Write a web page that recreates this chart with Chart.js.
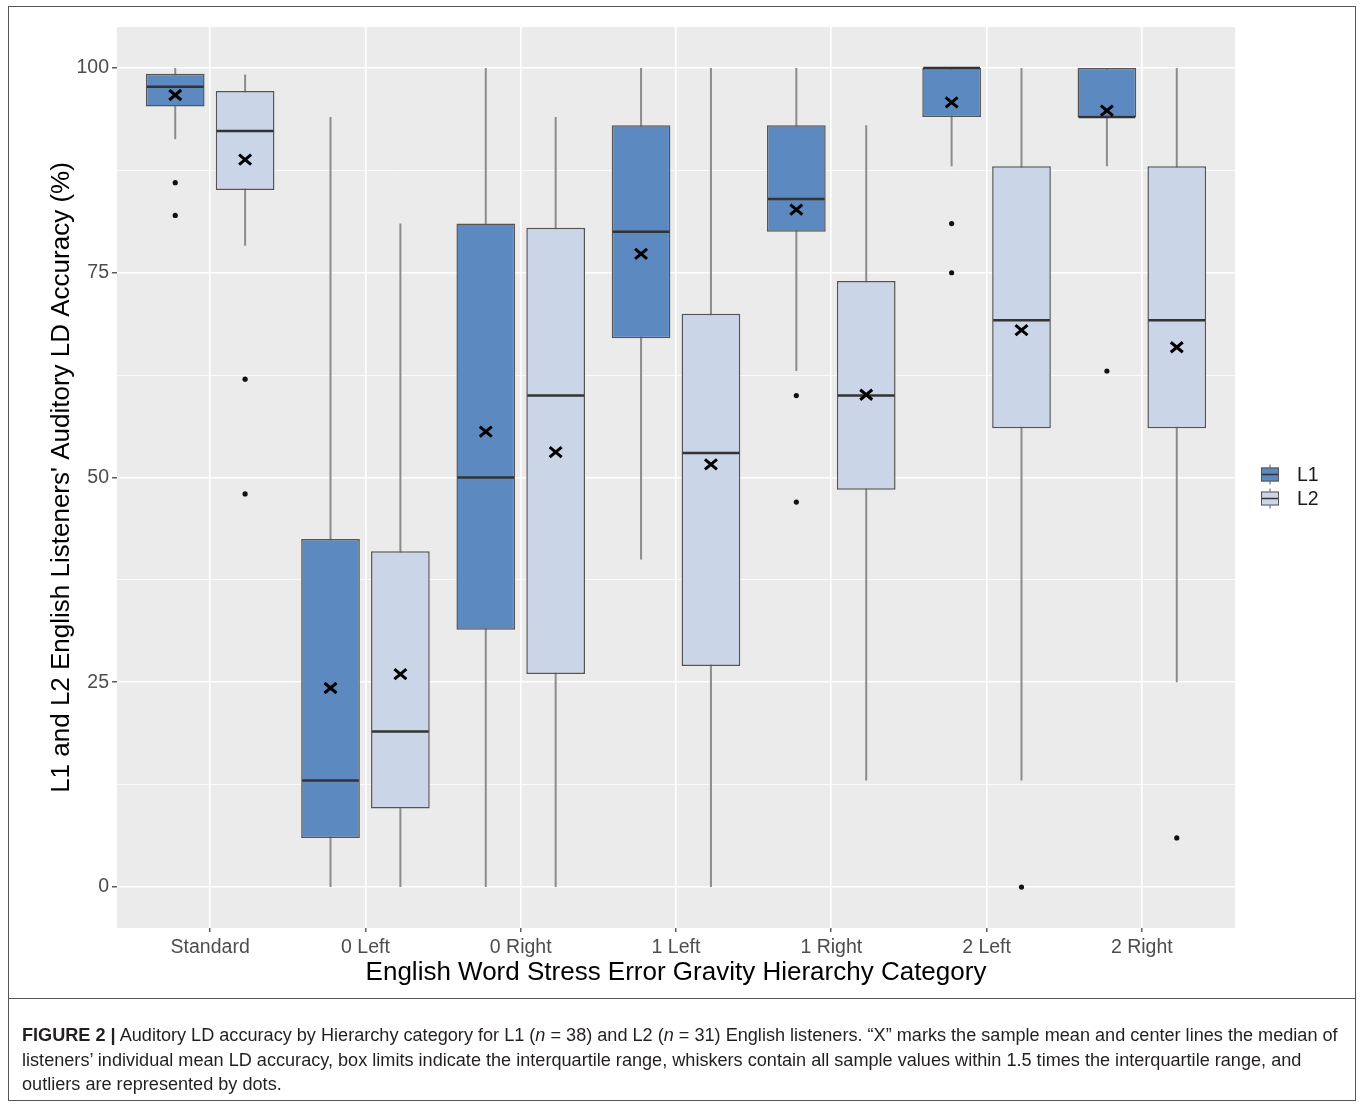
<!DOCTYPE html>
<html>
<head>
<meta charset="utf-8">
<script src="https://cdn.jsdelivr.net/npm/chart.js@4.4.0/dist/chart.umd.min.js"></script>
<style>
  body { margin: 0; background: #fff; width: 1360px; height: 1105px; position: relative; overflow: hidden; }
  #chartBox { position: absolute; left: 0; top: 0; width: 1360px; height: 1000px; }
  #frame { position: absolute; left: 8px; top: 6px; width: 1348px; height: 1095px; border: 1px solid #555; box-sizing: border-box; pointer-events: none; }
  #rule { position: absolute; left: 8px; top: 998px; width: 1348px; border-top: 1px solid #555; }
  #caption { position: absolute; left: 22px; top: 1023px; font-family: "Liberation Sans Narrow", "Liberation Sans", sans-serif; font-size: 17px; line-height: 24.5px; color: #231f20; white-space: nowrap; }
  #caption b { font-weight: bold; }
</style>
</head>
<body>
<div id="chartBox"><canvas id="boxChart" width="1360" height="1000"></canvas></div>
<div id="frame"></div>
<div id="rule"></div>
<div id="caption">
  <div class="line"><b>FIGURE 2 |</b> Auditory LD accuracy by Hierarchy category for L1 (<i>n</i> = 38) and L2 (<i>n</i> = 31) English listeners. “X” marks the sample mean and center lines the median of</div>
  <div class="line">listeners’ individual mean LD accuracy, box limits indicate the interquartile range, whiskers contain all sample values within 1.5 times the interquartile range, and</div>
  <div class="line">outliers are represented by dots.</div>
</div>
<script>
// 카테고리
const categories = ["Standard", "0 Left", "0 Right", "1 Left", "1 Right", "2 Left", "2 Right"];
const yTicks = [0, 12.5, 25, 37.5, 50, 62.5, 75, 87.5, 100];

// L1 값
const l1Min = [91.3, 0, 0, 40, 63, 88, 88];
const l1Q1 = [95.3, 6, 31.4, 67, 80, 94, 94];
const l1Median = [97.7, 13, 50, 80, 84, 100, 94];
const l1Q3 = [99.3, 42.5, 81, 93, 93, 100, 100];
const l1Max = [100, 94, 100, 100, 100, 100, 100];
const l1Mean = [96.7, 24.3, 55.6, 77.3, 82.7, 95.8, 94.8];
const l1Outliers = [[86, 82], [], [], [], [60, 47], [81, 75], [63]];

// L2 값
const l2Min = [78.3, 0, 0, 0, 13, 13, 25];
const l2Q1 = [85.1, 9.6, 26, 27, 48.5, 56, 56];
const l2Median = [92.3, 19, 60, 53, 60, 69.2, 69.2];
const l2Q3 = [97.2, 41, 80.5, 70, 74, 88, 88];
const l2Max = [99.2, 81, 94, 100, 93, 100, 100];
const l2Mean = [88.8, 26, 53.1, 51.6, 60.1, 68, 65.9];
const l2Outliers = [[62, 48], [], [], [], [], [0], [6]];

const series = [
  { label: "L1", fill: "#5b89c0", min: l1Min, q1: l1Q1, median: l1Median, q3: l1Q3, max: l1Max, mean: l1Mean, outliers: l1Outliers },
  { label: "L2", fill: "#cbd5e8", min: l2Min, q1: l2Q1, median: l2Median, q3: l2Q3, max: l2Max, mean: l2Mean, outliers: l2Outliers },
];

const boxBorder = "#555555";
const whiskerColor = "#8c8c8c";
const medianColor = "#333333";

// 박스플롯 나머지 부분 (배경, 수염, 중앙값, 평균, 이상치, 범례)
const boxplotParts = {
  id: "boxplotParts",
  beforeDraw(chart) {
    const { ctx, chartArea: a } = chart;
    ctx.save();
    ctx.fillStyle = "#ebebeb";
    ctx.fillRect(a.left, a.top, a.right - a.left, a.bottom - a.top);
    ctx.restore();
  },
  beforeDatasetsDraw(chart) {
    const ctx = chart.ctx;
    const y = chart.scales.y;
    ctx.save();
    ctx.strokeStyle = whiskerColor;
    ctx.lineWidth = 2;
    series.forEach((s, d) => {
      chart.getDatasetMeta(d).data.forEach((bar, i) => {
        ctx.beginPath();
        ctx.moveTo(bar.x, y.getPixelForValue(s.min[i]));
        ctx.lineTo(bar.x, y.getPixelForValue(s.max[i]));
        ctx.stroke();
      });
    });
    ctx.restore();
  },
  afterDatasetsDraw(chart) {
    const ctx = chart.ctx;
    const y = chart.scales.y;
    ctx.save();
    series.forEach((s, d) => {
      chart.getDatasetMeta(d).data.forEach((bar, i) => {
        const half = bar.width / 2;
        // 중앙값
        const my = y.getPixelForValue(s.median[i]);
        ctx.strokeStyle = medianColor;
        ctx.lineWidth = 2.5;
        ctx.beginPath();
        ctx.moveTo(bar.x - half + 1, my);
        ctx.lineTo(bar.x + half - 1, my);
        ctx.stroke();
        // 평균 (X)
        const ey = y.getPixelForValue(s.mean[i]);
        ctx.strokeStyle = "#000";
        ctx.lineWidth = 3;
        ctx.beginPath();
        ctx.moveTo(bar.x - 6, ey - 5);
        ctx.lineTo(bar.x + 6, ey + 5);
        ctx.moveTo(bar.x - 6, ey + 5);
        ctx.lineTo(bar.x + 6, ey - 5);
        ctx.stroke();
        // 이상치
        ctx.fillStyle = "#111";
        s.outliers[i].forEach((v) => {
          ctx.beginPath();
          ctx.arc(bar.x, y.getPixelForValue(v), 2.6, 0, Math.PI * 2);
          ctx.fill();
        });
      });
    });
    ctx.restore();
  },
  afterDraw(chart) {
    // 범례
    const ctx = chart.ctx;
    const a = chart.chartArea;
    const x0 = a.right + 25;
    const mid = (a.top + a.bottom) / 2;
    ctx.save();
    series.forEach((s, d) => {
      const cy = mid - 3 + d * 24;
      ctx.strokeStyle = whiskerColor;
      ctx.lineWidth = 1.5;
      ctx.beginPath();
      ctx.moveTo(x0 + 10, cy - 10);
      ctx.lineTo(x0 + 10, cy + 10);
      ctx.stroke();
      ctx.fillStyle = s.fill;
      ctx.fillRect(x0 + 1, cy - 7, 18, 14);
      ctx.strokeStyle = boxBorder;
      ctx.lineWidth = 1;
      ctx.strokeRect(x0 + 1.5, cy - 6.5, 17, 13);
      ctx.strokeStyle = medianColor;
      ctx.lineWidth = 1.5;
      ctx.beginPath();
      ctx.moveTo(x0 + 2, cy);
      ctx.lineTo(x0 + 18, cy);
      ctx.stroke();
      ctx.fillStyle = "#1a1a1a";
      ctx.font = '19.5px "Liberation Sans", Arial, sans-serif';
      ctx.textBaseline = "middle";
      ctx.fillText(s.label, x0 + 37, cy + 1);
    });
    ctx.restore();
  },
};

const datasets = series.map((s) => ({
  label: s.label,
  data: categories.map((c, i) => ({ x: i + 1, y: [s.q1[i], s.q3[i]] })),
  backgroundColor: s.fill,
  borderColor: boxBorder,
  borderWidth: 1.5,
  borderSkipped: false,
  categoryPercentage: 0.9,
  barPercentage: 0.84,
}));

const tickFont = { family: '"Liberation Sans", Arial, sans-serif', size: 19.5 };
const titleFont = { family: '"Liberation Sans", Arial, sans-serif', size: 26 };

new Chart(document.getElementById("boxChart").getContext("2d"), {
  type: "bar",
  data: { datasets: datasets },
  options: {
    responsive: false,
    devicePixelRatio: 1,
    animation: false,
    layout: { padding: { top: 27, right: 125, left: 40, bottom: 0 } },
    plugins: {
      legend: { display: false },
      tooltip: { enabled: false },
    },
    scales: {
      x: {
        type: "linear",
        min: 0.4,
        max: 7.6,
        offset: false,
        afterBuildTicks: (axis) => {
          axis.ticks = categories.map((c, i) => ({ value: i + 1 }));
        },
        afterFit: (axis) => {
          axis.height = 72;
        },
        grid: { offset: false, color: "#ffffff", lineWidth: 1.6, tickLength: 4, tickColor: "#333333", tickWidth: 1.2 },
        border: { display: false },
        ticks: {
          autoSkip: false,
          maxRotation: 0,
          padding: 4,
          color: "#4d4d4d",
          font: tickFont,
          callback: (v) => categories[Math.round(v) - 1],
        },
        title: {
          display: true,
          text: "English Word Stress Error Gravity Hierarchy Category",
          color: "#000",
          font: titleFont,
          padding: { top: 0, bottom: 12 },
        },
      },
      y: {
        min: -5,
        max: 105,
        afterBuildTicks: (axis) => {
          axis.ticks = yTicks.map((v) => ({ value: v }));
        },
        afterFit: (axis) => {
          axis.width = 77;
        },
        grid: {
          color: "#ffffff",
          lineWidth: (c) => (c.tick && c.tick.value % 25 === 0 ? 1.6 : 0.8),
          tickLength: 5,
          tickColor: (c) => (c.tick && c.tick.value % 25 === 0 ? "#333333" : "rgba(0,0,0,0)"),
          tickWidth: 1.2,
        },
        border: { display: false },
        ticks: {
          padding: 3,
          color: "#4d4d4d",
          font: tickFont,
          callback: (v) => (v % 25 === 0 ? v : ""),
        },
        title: {
          display: true,
          text: "L1 and L2 English Listeners' Auditory LD Accuracy (%)",
          color: "#000",
          font: titleFont,
          padding: { top: 6, bottom: 0 },
        },
      },
    },
  },
  plugins: [boxplotParts],
});

// 캡션 폭 맞추기
const firstLine = document.querySelector("#caption .line");
const cap = document.getElementById("caption");
const w = firstLine.scrollWidth;
if (w > 0) {
  cap.style.fontSize = (17 * 1316 / w).toFixed(2) + "px";
}
</script>
</body>
</html>
